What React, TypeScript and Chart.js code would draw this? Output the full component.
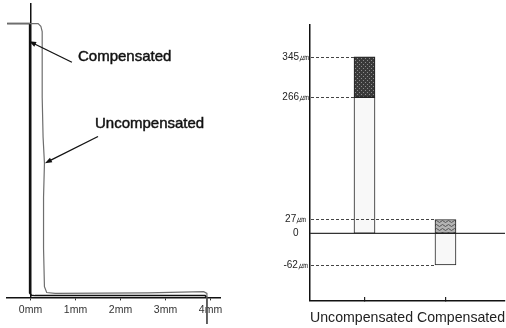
import React, { useEffect, useRef } from "react";
import { Chart, registerables } from "chart.js";

Chart.register(...registerables);

const FONT = '"Liberation Sans", Arial, Helvetica, sans-serif';

// ---------- Left panel: edge profiles (mm) ----------
const uncompX = [-0.52, 0.17, 0.23, 0.26, 0.26, 0.28, 0.31, 0.29, 0.29, 0.31, 0.36, 0.55, 2.6, 3.85, 3.92, 3.92];
const uncompY = [6.16, 6.16, 6.1, 5.98, 4.5, 3.6, 3.02, 2.25, 1.1, 0.24, 0.11, 0.09, 0.1, 0.13, 0.09, -0.6];
const compX = [-0.52, -0.02, -0.02, 0.02, 0.1, 3.88, 3.92, 3.92];
const compY = [6.16, 6.16, 0.1, 0.05, 0.04, 0.04, 0.0, -0.6];
const xTicks = [0, 1, 2, 3, 4];
const xTickLabels = ["0mm", "1mm", "2mm", "3mm", "4mm"];

const notes = [
  { text: "Compensated", at: [1.056, 5.42], tail: [0.92, 5.29], head: [-0.03, 5.76] },
  { text: "Uncompensated", at: [1.433, 3.9], tail: [1.5, 3.62], head: [0.32, 3.02] },
];

// ---------- Right panel: deviation bars (µm) ----------
const categories = ["Uncompensated", "Compensated"];
const baseRange = [[0, 266], [-62, 0]];
const excessRange = [[266, 345], [0, 27]];
const yTicks = [-62, 0, 27, 266, 345];
const yTickLabels = ["-62㎛", "0", "27㎛", "266㎛", "345㎛"];

function makePattern(kind: string): CanvasPattern | string {
  const c = document.createElement("canvas");
  const g = c.getContext("2d");
  if (!g) return "#777";
  if (kind === "dark") {
    c.width = 4; c.height = 4;
    g.fillStyle = "#3a3a3a"; g.fillRect(0, 0, 4, 4);
    g.fillStyle = "#8c8c8c"; g.fillRect(0, 0, 1, 1); g.fillRect(2, 2, 1, 1);
  } else {
    c.width = 6; c.height = 4;
    g.fillStyle = "#b4b4b4"; g.fillRect(0, 0, 6, 4);
    g.strokeStyle = "#555"; g.lineWidth = 1;
    g.beginPath(); g.moveTo(0, 1.5); g.lineTo(1.5, 0.5); g.lineTo(3, 1.5); g.lineTo(4.5, 2.5); g.lineTo(6, 1.5); g.stroke();
  }
  return g.createPattern(c, "repeat") || "#777";
}

const notesPlugin = {
  id: "notes",
  afterDatasetsDraw(chart: any) {
    const { ctx, scales } = chart;
    const x = scales.x, y = scales.y;
    ctx.save();
    ctx.font = "15px " + FONT;
    ctx.fillStyle = "#111";
    ctx.textAlign = "left";
    ctx.textBaseline = "middle";
    notes.forEach((n) => {
      const tx = x.getPixelForValue(n.at[0]), ty = y.getPixelForValue(n.at[1]);
      ctx.fillText(n.text, tx, ty);
      ctx.strokeStyle = "#111";
      ctx.lineWidth = 0.45;
      ctx.strokeText(n.text, tx, ty);
      const x1 = x.getPixelForValue(n.tail[0]), y1 = y.getPixelForValue(n.tail[1]);
      const x2 = x.getPixelForValue(n.head[0]), y2 = y.getPixelForValue(n.head[1]);
      const a = Math.atan2(y2 - y1, x2 - x1);
      ctx.lineWidth = 1.3;
      ctx.beginPath(); ctx.moveTo(x1, y1); ctx.lineTo(x2 - 5 * Math.cos(a), y2 - 5 * Math.sin(a)); ctx.stroke();
      ctx.beginPath();
      ctx.moveTo(x2, y2);
      ctx.lineTo(x2 - 7 * Math.cos(a) + 2.6 * Math.sin(a), y2 - 7 * Math.sin(a) - 2.6 * Math.cos(a));
      ctx.lineTo(x2 - 7 * Math.cos(a) - 2.6 * Math.sin(a), y2 - 7 * Math.sin(a) + 2.6 * Math.cos(a));
      ctx.closePath(); ctx.fill();
    });
    ctx.restore();
  },
};

const guidesPlugin = {
  id: "guides",
  beforeDatasetsDraw(chart: any) {
    const { ctx, chartArea, scales } = chart;
    const y0 = scales.y.getPixelForValue(0);
    ctx.save();
    ctx.strokeStyle = "#333";
    ctx.lineWidth = 1.3;
    ctx.beginPath(); ctx.moveTo(chartArea.left, y0); ctx.lineTo(chartArea.right, y0); ctx.stroke();
    ctx.restore();
  },
  afterDatasetsDraw(chart: any) {
    const { ctx, chartArea, scales } = chart;
    const seen: Record<string, boolean> = {};
    ctx.save();
    ctx.strokeStyle = "#444";
    ctx.lineWidth = 1;
    ctx.setLineDash([3, 2]);
    chart.data.datasets.forEach((ds: any, di: number) => {
      const meta = chart.getDatasetMeta(di);
      ds.data.forEach((d: any, j: number) => {
        const el = meta.data[j];
        if (!el) return;
        const left = el.x - el.width / 2;
        d.y.forEach((v: number) => {
          const key = v + ":" + j;
          if (v === 0 || seen[key]) return;
          seen[key] = true;
          const py = Math.round(scales.y.getPixelForValue(v)) + 0.5;
          ctx.beginPath(); ctx.moveTo(chartArea.left + 1, py); ctx.lineTo(left, py); ctx.stroke();
        });
      });
    });
    ctx.restore();
  },
};

export default function App() {
  const leftRef = useRef<HTMLCanvasElement>(null);
  const rightRef = useRef<HTMLCanvasElement>(null);

  useEffect(() => {
    Chart.defaults.font.family = FONT;
    const zip = (xs: number[], ys: number[]) => xs.map((v, i) => ({ x: v, y: ys[i] }));

    const left = new Chart(leftRef.current as HTMLCanvasElement, {
      type: "scatter",
      data: {
        datasets: [
          { label: "Uncompensated", data: zip(uncompX, uncompY), showLine: true, borderColor: "#6e6e6e", borderWidth: 1.2, pointRadius: 0, clip: false } as any,
          { label: "Compensated", data: zip(compX, compY), showLine: true, borderColor: "#111", borderWidth: 1.5, pointRadius: 0, clip: false } as any,
        ],
      },
      options: {
        responsive: false,
        devicePixelRatio: 1,
        animation: false,
        layout: { padding: { left: 7, right: 30, top: 4, bottom: 9 } },
        plugins: { legend: { display: false }, tooltip: { enabled: false } },
        scales: {
          x: {
            type: "linear",
            position: "bottom",
            min: -0.522,
            max: 4.211,
            afterBuildTicks: (s: any) => { s.ticks = xTicks.map((v) => ({ value: v })); },
            ticks: {
              autoSkip: false, maxRotation: 0, padding: 3, color: "#333", font: { size: 10.5 },
              callback: (v: any) => xTickLabels[xTicks.indexOf(Number(v))],
            },
            grid: { drawOnChartArea: false, tickLength: 3, color: "#333" },
            border: { color: "#111", width: 1.5 },
          },
          y: {
            type: "linear",
            position: { x: 0 } as any,
            min: 0,
            max: 6.6,
            ticks: { display: false },
            grid: { display: false, drawTicks: false },
            border: { color: "#111", width: 1.5 },
          },
        },
      } as any,
      plugins: [notesPlugin],
    });

    const right = new Chart(rightRef.current as HTMLCanvasElement, {
      type: "bar",
      data: {
        datasets: [
          {
            label: "Base",
            data: categories.map((c, i) => ({ x: i + 1, y: baseRange[i] })),
            backgroundColor: "#f8f8f8",
            borderColor: "#222",
            borderWidth: 1,
            borderSkipped: false,
            barThickness: 21,
            grouped: false,
          } as any,
          {
            label: "Excess",
            data: categories.map((c, i) => ({ x: i + 1, y: excessRange[i] })),
            backgroundColor: [makePattern("dark"), makePattern("wave")],
            borderColor: "#222",
            borderWidth: 1,
            borderSkipped: false,
            barThickness: 21,
            grouped: false,
          } as any,
        ],
      },
      options: {
        responsive: false,
        devicePixelRatio: 1,
        animation: false,
        layout: { padding: { left: 15, right: 1, top: 25, bottom: 0 } },
        plugins: { legend: { display: false }, tooltip: { enabled: false } },
        scales: {
          x: {
            type: "linear",
            offset: false,
            min: 0.327,
            max: 2.735,
            afterBuildTicks: (s: any) => { s.ticks = categories.map((c, i) => ({ value: i + 1 })); },
            ticks: { display: false },
            grid: { offset: false, drawOnChartArea: false, drawTicks: true, tickLength: -4, color: "#222", lineWidth: 1.2 },
            border: { color: "#111", width: 1.5 },
            title: {
              display: true,
              text: categories.join(" "),
              color: "#222",
              font: { size: 14.2 },
              padding: { top: 13, bottom: 1 },
            },
          },
          y: {
            type: "linear",
            min: -132.3,
            max: 407.2,
            afterBuildTicks: (s: any) => { s.ticks = yTicks.map((v) => ({ value: v })); },
            afterFit: (s: any) => { s.width = 40; },
            ticks: {
              autoSkip: false, crossAlign: "center", padding: 1, color: "#222", font: { size: 10 },
              callback: (v: any) => yTickLabels[yTicks.indexOf(Number(v))],
            },
            grid: { display: false, drawTicks: false },
            border: { color: "#111", width: 1.5 },
          },
        },
      } as any,
      plugins: [guidesPlugin],
    });

    return () => { left.destroy(); right.destroy(); };
  }, []);

  return (
    <div style={{ position: "fixed", left: 0, top: 0, width: 506, height: 328, background: "#fff", overflow: "hidden" }}>
      <canvas ref={leftRef} width={250} height={328} style={{ position: "absolute", left: 0, top: 0, width: 250, height: 328 }} />
      <canvas ref={rightRef} width={251} height={328} style={{ position: "absolute", left: 255, top: 0, width: 251, height: 328 }} />
    </div>
  );
}
